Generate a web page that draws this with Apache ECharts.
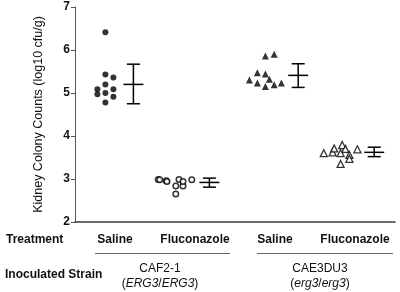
<!DOCTYPE html>
<html>
<head>
<meta charset="utf-8">
<script src="https://cdn.jsdelivr.net/npm/echarts@6/dist/echarts.min.js"></script>
<style>
html, body { margin: 0; padding: 0; background: #fff; }
#chart { width: 400px; height: 292px; }
</style>
</head>
<body>
<div id="chart"></div>
<script>
// treatments along the bottom, strains below them
var treatments = ['Saline', 'Fluconazole', 'Saline', 'Fluconazole']
var strains = ['CAF2-1', 'CAE3DU3']
var genotypes = [['ERG3', 'ERG3'], ['erg3', 'erg3']]
var yTicks = [2, 3, 4, 5, 6, 7]

// x position of each mouse (group n sits at x = n), log10 cfu/g
var cafSalineX = [0.88, 0.88, 0.98, 0.88, 0.78, 0.98, 0.78, 0.88, 0.98, 0.88]
var cafSalineY = [6.41, 5.43, 5.36, 5.20, 5.09, 5.09, 4.97, 5.00, 4.91, 4.78]
var cafFluX = [1.54, 1.56, 1.64, 1.65, 1.76, 1.80, 1.85, 1.85, 1.96, 1.76]
var cafFluY = [2.99, 2.98, 2.96, 2.94, 2.84, 2.99, 2.84, 2.94, 2.98, 2.65]
var ergSalineX = [2.88, 2.99, 2.78, 2.88, 2.68, 2.93, 2.78, 2.99, 2.88, 3.08]
var ergSalineY = [5.86, 5.90, 5.47, 5.44, 5.30, 5.32, 5.23, 5.19, 5.15, 5.23]
var ergFluX = [3.61, 3.72, 3.74, 3.84, 3.88, 3.82, 3.93, 3.93, 4.03, 3.82]
var ergFluY = [3.60, 3.62, 3.71, 3.79, 3.70, 3.60, 3.56, 3.47, 3.69, 3.35]

// mean and error bars: x, mean, low, high
var barX = [1.23, 2.18, 3.29, 4.24]
var barMean = [5.20, 2.92, 5.41, 3.62]
var barLow = [4.75, 2.81, 5.13, 3.52]
var barHigh = [5.67, 3.02, 5.68, 3.74]

var font = 'Liberation Sans, Arial, sans-serif'

function pairs (xs, ys) {
  var out = []
  for (var i = 0; i < xs.length; i++) out.push([xs[i], ys[i]])
  return out
}

var barData = []
for (var i = 0; i < barX.length; i++) {
  barData.push([barX[i], barMean[i], barLow[i], barHigh[i]])
}

var chart = echarts.init(document.getElementById('chart'), null, { renderer: 'canvas' })
chart.setOption({
  backgroundColor: '#fff',
  animation: false,
  textStyle: { fontFamily: font },
  grid: { left: 75, right: 5, top: 7, bottom: 70 },
  xAxis: [
    {
      type: 'value',
      min: 0.5,
      max: 4.5,
      position: 'bottom',
      axisLine: { show: true, lineStyle: { color: '#3a3a3a', width: 1.6 } },
      axisTick: { show: false },
      axisLabel: { show: false },
      splitLine: { show: false }
    },
    {
      type: 'category',
      data: treatments,
      position: 'bottom',
      axisLine: { show: false },
      axisTick: { show: false },
      axisLabel: { interval: 0, margin: 12, fontSize: 12, fontWeight: 'bold', color: '#111', fontFamily: font }
    },
    {
      type: 'category',
      data: strains,
      position: 'bottom',
      axisLine: { show: false },
      axisTick: { show: false },
      axisLabel: {
        interval: 0,
        margin: 39,
        fontSize: 12,
        color: '#111',
        fontFamily: font,
        lineHeight: 15,
        padding: [0, 0, 0, 10],
        formatter: function (v, idx) {
          var g = genotypes[idx]
          return v + '\n({i|' + g[0] + '}/{i|' + g[1] + '})'
        },
        rich: {
          i: { fontStyle: 'italic', fontSize: 12, color: '#111', fontFamily: font, lineHeight: 15 }
        }
      }
    }
  ],
  yAxis: {
    type: 'value',
    min: yTicks[0],
    max: yTicks[yTicks.length - 1],
    interval: 1,
    name: 'Kidney Colony Counts (log10 cfu/g)',
    nameLocation: 'middle',
    nameGap: 30,
    nameTextStyle: { fontSize: 12.5, color: '#111', fontFamily: font },
    axisLine: { show: true, lineStyle: { color: '#555', width: 1 } },
    axisTick: { show: true, length: 4, lineStyle: { color: '#555' } },
    axisLabel: { margin: 5, fontSize: 12, fontWeight: 'bold', color: '#111', fontFamily: font },
    splitLine: { show: false }
  },
  graphic: [
    { type: 'text', left: 6, top: 234, style: { text: 'Treatment', font: 'bold 12px ' + font, fill: '#111' } },
    { type: 'text', left: 5, top: 269, style: { text: 'Inoculated Strain', font: 'bold 12px ' + font, fill: '#111' } },
    { type: 'line', shape: { x1: 95, y1: 253.5, x2: 230, y2: 253.5 }, style: { stroke: '#666', lineWidth: 1 } },
    { type: 'line', shape: { x1: 257, y1: 253.5, x2: 393, y2: 253.5 }, style: { stroke: '#666', lineWidth: 1 } }
  ],
  series: [
    {
      type: 'scatter',
      data: pairs(cafSalineX, cafSalineY),
      symbol: 'circle',
      symbolSize: 6,
      itemStyle: { color: '#000' }
    },
    {
      type: 'scatter',
      data: pairs(cafFluX, cafFluY),
      symbol: 'circle',
      symbolSize: 5.5,
      itemStyle: { color: '#fff', borderColor: '#000', borderWidth: 1.5 }
    },
    {
      type: 'scatter',
      data: pairs(ergSalineX, ergSalineY),
      symbol: 'triangle',
      symbolSize: 7,
      itemStyle: { color: '#000' }
    },
    {
      type: 'scatter',
      data: pairs(ergFluX, ergFluY),
      symbol: 'triangle',
      symbolSize: 7,
      itemStyle: { color: '#fff', borderColor: '#000', borderWidth: 1.3 }
    },
    {
      type: 'custom',
      data: barData,
      renderItem: function (params, api) {
        var mid = api.coord([api.value(0), api.value(1)])
        var lo = api.coord([api.value(0), api.value(2)])
        var hi = api.coord([api.value(0), api.value(3)])
        var cap = 6.5
        var half = 10
        var st = { stroke: '#000', lineWidth: 1.5 }
        return {
          type: 'group',
          children: [
            { type: 'line', shape: { x1: mid[0], y1: lo[1], x2: mid[0], y2: hi[1] }, style: st },
            { type: 'line', shape: { x1: mid[0] - cap, y1: lo[1], x2: mid[0] + cap, y2: lo[1] }, style: st },
            { type: 'line', shape: { x1: mid[0] - cap, y1: hi[1], x2: mid[0] + cap, y2: hi[1] }, style: st },
            { type: 'line', shape: { x1: mid[0] - half, y1: mid[1], x2: mid[0] + half, y2: mid[1] }, style: st }
          ]
        }
      }
    }
  ]
})
</script>
</body>
</html>
